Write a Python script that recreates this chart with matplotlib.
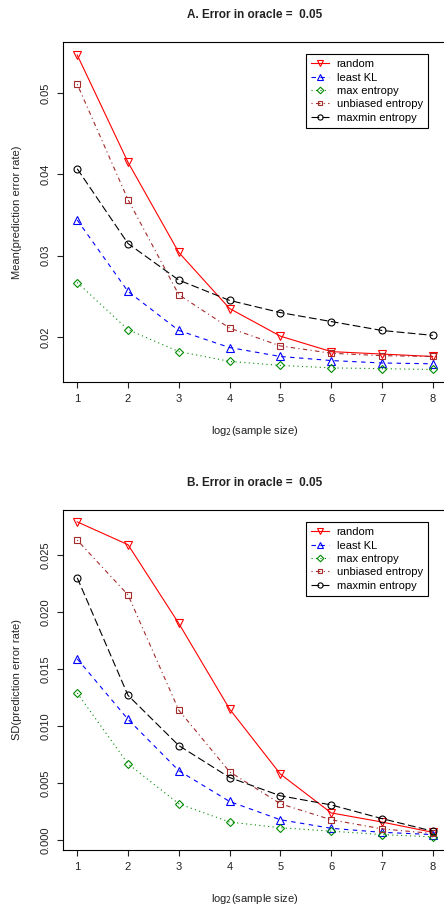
import matplotlib
matplotlib.use("Agg")
import matplotlib.pyplot as plt

plt.rcParams['font.family'] = ['Liberation Sans', 'DejaVu Sans']

log2_size = [1, 2, 3, 4, 5, 6, 7, 8]
methods = ['random', 'least KL', 'max entropy', 'unbiased entropy', 'maxmin entropy']

# mean of prediction error rate
mean_random = [0.0547, 0.0415, 0.0304, 0.0235, 0.0201, 0.0182, 0.0179, 0.0176]
mean_leastkl = [0.0344, 0.0256, 0.0208, 0.0187, 0.0176, 0.0171, 0.0168, 0.0167]
mean_maxent = [0.0267, 0.0209, 0.0182, 0.0170, 0.0165, 0.0162, 0.0161, 0.0160]
mean_unbiased = [0.0511, 0.0369, 0.0252, 0.0211, 0.0189, 0.0180, 0.0177, 0.0176]
mean_maxmin = [0.0407, 0.0315, 0.0270, 0.0245, 0.0230, 0.0219, 0.0208, 0.0202]

# SD of prediction error rate
sd_random = [0.0279, 0.0259, 0.0190, 0.0115, 0.0058, 0.0024, 0.0016, 0.0007]
sd_leastkl = [0.0159, 0.0106, 0.0061, 0.0034, 0.0018, 0.00105, 0.0007, 0.0005]
sd_maxent = [0.0129, 0.0067, 0.0032, 0.0016, 0.0011, 0.0008, 0.0005, 0.0003]
sd_unbiased = [0.0263, 0.0215, 0.0114, 0.0060, 0.0032, 0.0018, 0.0010, 0.0006]
sd_maxmin = [0.0230, 0.0127, 0.0083, 0.0055, 0.0039, 0.0031, 0.0019, 0.0008]

colors = ['#FF0000', '#0000FF', '#008B00', '#A52A2A', '#000000']
markers = ['v', '^', 'D', 's', 'o']
msizes = [6, 6, 4.5, 4.5, 5]
styles = ['-', (0, (4, 4)), (0, (1, 3)), (0, (1, 3, 4, 3)), (0, (7, 3))]


def draw_panel(ax, series, title, ylabel, ylim, yticks, ytick_labels):
    for i, vals in enumerate(series):
        ax.plot(log2_size, vals, color=colors[i], linestyle=styles[i], linewidth=0.8,
                marker=markers[i], markersize=msizes[i], markerfacecolor='none',
                markeredgecolor=colors[i], markeredgewidth=0.8, label=methods[i])
    ax.set_xlim(0.72, 8.28)
    ax.set_ylim(*ylim)
    ax.set_xticks(log2_size)
    ax.set_yticks(yticks)
    ax.set_yticklabels(ytick_labels, rotation=90, va='center')
    ax.tick_params(direction='out', length=4, width=0.8, labelsize=8, colors='#222222', pad=5)
    for sp in ax.spines.values():
        sp.set_linewidth(0.8)
    ax.set_title(title, fontsize=8.5, fontweight='bold', pad=17, color='#222222')
    ax.set_xlabel('log$_2$(sample size)', fontsize=8, labelpad=14, color='#222222')
    ax.set_ylabel(ylabel, fontsize=8, labelpad=13, color='#222222')
    leg = ax.legend(loc='upper left', bbox_to_anchor=(0.633, 0.964), borderaxespad=0,
                    fontsize=8, frameon=True, fancybox=False, edgecolor='black',
                    handlelength=1.6, handletextpad=0.7, labelspacing=0.3,
                    borderpad=0.45, framealpha=1, markerscale=0.75)
    leg.get_frame().set_linewidth(0.8)


fig = plt.figure(figsize=(4.44, 9.07), dpi=100)
ax1 = fig.add_axes([63 / 444, 1 - 382 / 907, 384 / 444, 340 / 907])
ax2 = fig.add_axes([63 / 444, 1 - 850 / 907, 384 / 444, 340 / 907])

draw_panel(ax1, [mean_random, mean_leastkl, mean_maxent, mean_unbiased, mean_maxmin],
           'A. Error in oracle =  0.05', 'Mean(prediction error rate)',
           (0.01446, 0.0563), [0.02, 0.03, 0.04, 0.05], ['0.02', '0.03', '0.04', '0.05'])
draw_panel(ax2, [sd_random, sd_leastkl, sd_maxent, sd_unbiased, sd_maxmin],
           'B. Error in oracle =  0.05', 'SD(prediction error rate)',
           (-0.00085, 0.02894), [0, 0.005, 0.01, 0.015, 0.02, 0.025],
           ['0.000', '0.005', '0.010', '0.015', '0.020', '0.025'])

fig.savefig('out.png', dpi=100)
